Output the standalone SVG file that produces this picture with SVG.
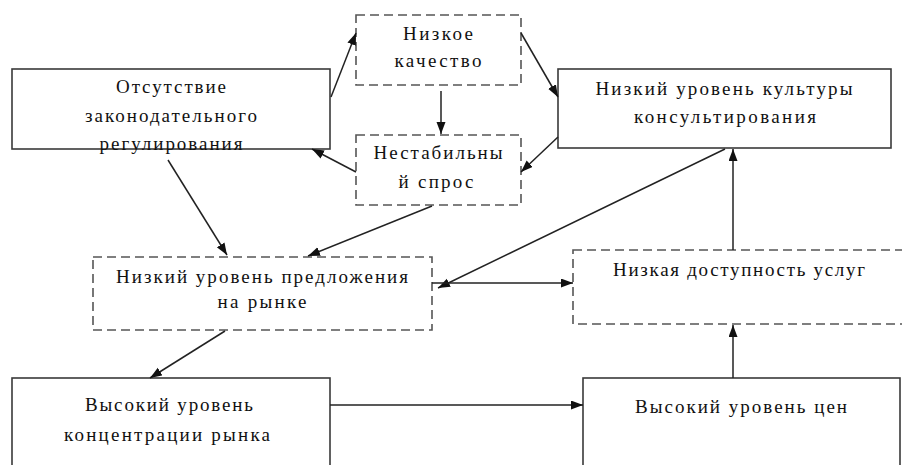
<svg xmlns="http://www.w3.org/2000/svg" width="902" height="465" viewBox="0 0 902 465">
<style>
.solid{fill:#fff;stroke:#3a3a3a;stroke-width:1.6}
.dash{fill:#fff;stroke:#555;stroke-width:1.6;stroke-dasharray:9 5}
.t{font-size:19px;fill:#111;text-anchor:middle}
.c{stroke:#222;stroke-width:1.5;fill:none;marker-end:url(#ah)}
</style>
<defs>
<marker id="ah" markerUnits="userSpaceOnUse" markerWidth="13" markerHeight="10" refX="12" refY="4.5" orient="auto">
<path d="M0,0 L12,4.5 L0,9 z" fill="#111"/>
</marker>
</defs>
<rect width="902" height="465" fill="#fff"/>
<g font-family="Times New Roman, Liberation Serif, DejaVu Serif, serif">
<g id="n-otsutstvie">
<rect class="solid" x="12" y="69" width="318" height="80"/>
<text class="t" x="171" y="93" textLength="110" lengthAdjust="spacing">Отсутствие</text>
<text class="t" x="171" y="122" textLength="172" lengthAdjust="spacing">законодательного</text>
<text class="t" x="171" y="150" textLength="143" lengthAdjust="spacing">регулирования</text>
</g>
<g id="n-kachestvo">
<rect class="dash" x="356" y="15" width="165" height="70"/>
<text class="t" x="438" y="40" textLength="70" lengthAdjust="spacing">Низкое</text>
<text class="t" x="438" y="67" textLength="87" lengthAdjust="spacing">качество</text>
</g>
<g id="n-spros">
<rect class="dash" x="356" y="135" width="165" height="70"/>
<text class="t" x="438" y="159" textLength="129" lengthAdjust="spacing">Нестабильны</text>
<text class="t" x="436" y="188" textLength="75" lengthAdjust="spacing">й спрос</text>
</g>
<g id="n-kultura">
<rect class="solid" x="558" y="69" width="333" height="79"/>
<text class="t" x="724" y="95" textLength="257" lengthAdjust="spacing">Низкий уровень культуры</text>
<text class="t" x="725" y="123" textLength="182" lengthAdjust="spacing">консультирования</text>
</g>
<g id="n-predlozhenie">
<rect class="dash" x="93" y="257" width="339" height="73"/>
<text class="t" x="262" y="283" textLength="292" lengthAdjust="spacing">Низкий уровень предложения</text>
<text class="t" x="262" y="308" textLength="89" lengthAdjust="spacing">на рынке</text>
</g>
<g id="n-dostupnost">
<rect class="dash" x="573" y="250" width="334" height="74"/>
<text class="t" x="739" y="276" textLength="252" lengthAdjust="spacing">Низкая доступность услуг</text>
</g>
<g id="n-koncentraciya">
<rect class="solid" x="12" y="378" width="318" height="100"/>
<text class="t" x="169" y="411" textLength="168" lengthAdjust="spacing">Высокий уровень</text>
<text class="t" x="167" y="441" textLength="206" lengthAdjust="spacing">концентрации рынка</text>
</g>
<g id="n-ceny">
<rect class="solid" x="583" y="378" width="317" height="100"/>
<text class="t" x="741" y="413" textLength="212" lengthAdjust="spacing">Высокий уровень цен</text>
</g>
</g>
<g id="connectors">
<line class="c" x1="331" y1="97" x2="356" y2="33"/>
<line class="c" x1="521" y1="33" x2="558" y2="97"/>
<line class="c" x1="441" y1="91" x2="441" y2="134"/>
<line class="c" x1="558" y1="137" x2="521" y2="172"/>
<line class="c" x1="356" y1="172" x2="312" y2="149"/>
<line class="c" x1="168" y1="160" x2="227" y2="255"/>
<line class="c" x1="432" y1="206" x2="308" y2="256"/>
<line class="c" x1="725" y1="149" x2="438" y2="288"/>
<line class="c" x1="432" y1="283" x2="573" y2="283"/>
<line class="c" x1="733" y1="250" x2="733" y2="149"/>
<line class="c" x1="225" y1="331" x2="150" y2="378"/>
<line class="c" x1="330" y1="405" x2="583" y2="405"/>
<line class="c" x1="733" y1="378" x2="733" y2="325"/>
</g>
</svg>
